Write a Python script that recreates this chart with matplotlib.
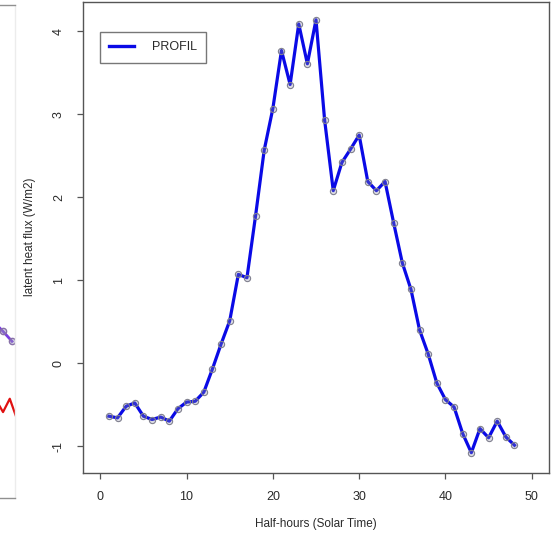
import matplotlib
matplotlib.use("Agg")
import matplotlib.pyplot as plt

# ---- data ----
half_hours = list(range(1, 49))
latent_flux = [-0.64, -0.66, -0.52, -0.48, -0.64, -0.68, -0.65, -0.70, -0.55, -0.47,
               -0.46, -0.35, -0.07, 0.23, 0.51, 1.07, 1.03, 1.78, 2.57, 3.07,
               3.77, 3.36, 4.09, 3.61, 4.14, 2.93, 2.08, 2.42, 2.58, 2.75,
               2.19, 2.08, 2.19, 1.69, 1.21, 0.89, 0.40, 0.11, -0.24, -0.44,
               -0.53, -0.85, -1.08, -0.79, -0.90, -0.70, -0.89, -0.99]
series_label = "PROFIL"
x_ticks = [0, 10, 20, 30, 40, 50]
y_ticks = [-1, 0, 1, 2, 3, 4]
x_label = "Half-hours (Solar Time)"
y_label = "latent heat flux (W/m2)"

# fragment of the neighbouring panel visible at the left edge
frag_purple_x = [46, 47, 48]
frag_purple_y = [0.49, 0.38, 0.26]
frag_red_x = [46.1, 47.0, 47.75, 48.6]
frag_red_y = [-0.42, -0.59, -0.43, -0.69]

W, H = 553, 538
fig = plt.figure(figsize=(W / 100, H / 100), dpi=100)
plt.rcParams['font.family'] = ['Liberation Sans', 'DejaVu Sans']

text_col = '#2a2a2a'
frame_col = '#555555'

# ---- neighbouring panel fragment ----
fx = fig.add_axes([-420 / W, 1 - 498 / H, 435 / W, 493 / H])
fx.set_xlim(0, 48.33)
fx.set_ylim(-1.623, 4.303)
fx.plot(frag_red_x, frag_red_y, color='#e01010', lw=1.6)
fx.plot(frag_purple_x, frag_purple_y, color='#7a3ee0', lw=2.0,
        marker='o', ms=4.5, mfc=(0.6, 0.6, 0.7, 0.4), mec='#8870a8')
fx.spines['left'].set_visible(False)
for s in ['top', 'bottom', 'right']:
    fx.spines[s].set_color('#909090')
    fx.spines[s].set_linewidth(1.0)
fx.spines['right'].set_color('#ececec')
fx.set_xticks([])
fx.set_yticks([])

# ---- main panel ----
ax = fig.add_axes([83 / W, 1 - 473 / H, 466 / W, 471 / H])
ax.plot(half_hours, latent_flux, color='#0a0ae6', lw=2.3, label=series_label,
        marker='o', ms=4.5, mfc=(0.55, 0.55, 0.65, 0.3), mec='#80808f', mew=0.8,
        zorder=3)
ax.set_xlim(-2, 52)
ax.set_ylim(-1.325, 4.355)
ax.set_xticks(x_ticks)
ax.set_yticks(y_ticks)
ax.set_xticklabels([str(v) for v in x_ticks], fontsize=9, color=text_col)
ax.set_yticklabels([str(v) for v in y_ticks], fontsize=9, color=text_col,
                   rotation=90, va='center')
ax.tick_params(axis='both', length=4.5, width=0.9, color=frame_col, pad=8.5)
for s in ax.spines.values():
    s.set_color(frame_col)
    s.set_linewidth(1.0)

fig.text(316 / W, 1 - 524 / H, x_label, ha='center', va='center',
         fontsize=8.5, color=text_col)
fig.text(30 / W, 1 - 237 / H, y_label, ha='center', va='center',
         rotation=90, fontsize=8.5, color=text_col)

leg = ax.legend(loc='upper left', bbox_to_anchor=((100 - 83) / 466, (473 - 32) / 471),
                fontsize=9, frameon=True, fancybox=False, handlelength=2.0,
                handletextpad=1.4, borderpad=0.75, borderaxespad=0)
leg.get_frame().set_edgecolor(frame_col)
leg.get_frame().set_linewidth(1.0)
for t in leg.get_texts():
    t.set_color(text_col)
for h in leg.get_lines():
    h.set_marker('')
    h.set_linewidth(2.4)

fig.savefig('out.png', dpi=100)
